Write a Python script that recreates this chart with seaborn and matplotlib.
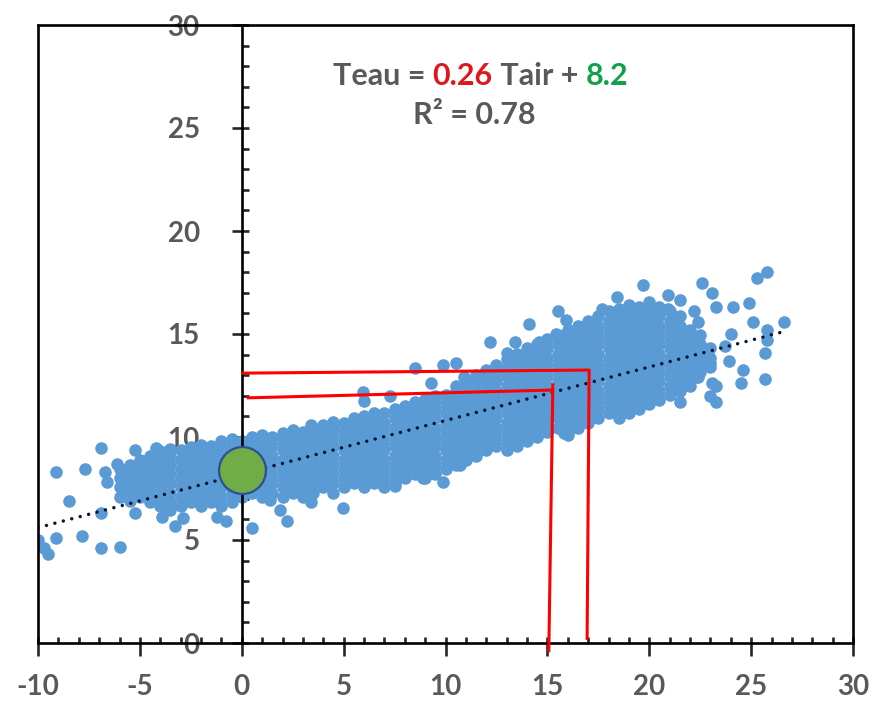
import numpy as np
import pandas as pd
import matplotlib.pyplot as plt
import seaborn as sns
from matplotlib.ticker import MultipleLocator

# dense part of the cloud, one column per Tair value -> Teau values
cloud_cold = [
    (-6.0, [7.1, 7.55, 8.0, 8.45]),
    (-5.5, [6.9, 7.3, 7.75, 8.2, 8.65]),
    (-5.0, [7.1, 7.55, 8.0, 8.45, 8.9]),
    (-4.5, [6.85, 7.3, 7.75, 8.2, 8.65, 9.1]),
    (-4.0, [6.65, 7.1, 7.55, 8.0, 8.45, 8.9, 9.3]),
    (-3.5, [6.45, 6.85, 7.3, 7.75, 8.2, 8.65, 9.1, 9.4]),
    (-3.0, [6.65, 7.1, 7.55, 8.0, 8.45, 8.9, 9.35]),
    (-2.5, [6.85, 7.3, 7.75, 8.2, 8.65, 9.1, 9.5]),
    (-2.0, [6.65, 7.1, 7.55, 8.0, 8.45, 8.9, 9.35, 9.6]),
    (-1.5, [6.85, 7.3, 7.75, 8.2, 8.65, 9.1, 9.55]),
    (-1.0, [6.65, 7.1, 7.55, 8.0, 8.45, 8.9, 9.35, 9.8]),
    (-0.5, [6.85, 7.3, 7.75, 8.2, 8.65, 9.1, 9.55, 9.9]),
]
cloud_mild = [
    (0.0, [7.1, 7.55, 8.0, 8.45, 8.9, 9.35, 9.8]),
    (0.5, [7.3, 7.75, 8.2, 8.65, 9.1, 9.55, 10.0]),
    (1.0, [7.1, 7.55, 8.0, 8.45, 8.9, 9.35, 9.8, 10.1]),
    (1.5, [7.3, 7.75, 8.2, 8.65, 9.1, 9.55, 10.0]),
    (2.0, [7.1, 7.55, 8.0, 8.45, 8.9, 9.35, 9.8, 10.2]),
    (2.5, [7.3, 7.75, 8.2, 8.65, 9.1, 9.55, 10.0, 10.35]),
    (3.0, [7.1, 7.55, 8.0, 8.45, 8.9, 9.35, 9.8, 10.25]),
    (3.5, [7.3, 7.75, 8.2, 8.65, 9.1, 9.55, 10.0, 10.45]),
    (4.0, [7.55, 8.0, 8.45, 8.9, 9.35, 9.8, 10.25, 10.6]),
    (4.5, [7.3, 7.75, 8.2, 8.65, 9.1, 9.55, 10.0, 10.45, 10.75]),
    (5.0, [7.55, 8.0, 8.45, 8.9, 9.35, 9.8, 10.25, 10.7]),
    (5.5, [7.75, 8.2, 8.65, 9.1, 9.55, 10.0, 10.45, 10.9]),
    (6.0, [7.55, 8.0, 8.45, 8.9, 9.35, 9.8, 10.25, 10.7, 11.0]),
    (6.5, [7.75, 8.2, 8.65, 9.1, 9.55, 10.0, 10.45, 10.9, 11.15]),
    (7.0, [7.55, 8.0, 8.45, 8.9, 9.35, 9.8, 10.25, 10.7, 11.15]),
    (7.5, [7.75, 8.2, 8.65, 9.1, 9.55, 10.0, 10.45, 10.9, 11.35]),
    (8.0, [8.0, 8.45, 8.9, 9.35, 9.8, 10.25, 10.7, 11.15, 11.5]),
    (8.5, [8.2, 8.65, 9.1, 9.55, 10.0, 10.45, 10.9, 11.35, 11.7]),
    (9.0, [8.0, 8.45, 8.9, 9.35, 9.8, 10.25, 10.7, 11.15, 11.6, 11.85]),
    (9.5, [8.2, 8.65, 9.1, 9.55, 10.0, 10.45, 10.9, 11.35, 11.8, 12.0]),
]
cloud_warm = [
    (10.0, [8.45, 8.9, 9.35, 9.8, 10.25, 10.7, 11.15, 11.6, 12.05]),
    (10.5, [8.65, 9.1, 9.55, 10.0, 10.45, 10.9, 11.35, 11.8, 12.25, 12.5]),
    (11.0, [8.9, 9.35, 9.8, 10.25, 10.7, 11.15, 11.6, 12.05, 12.5, 12.75]),
    (11.5, [9.1, 9.55, 10.0, 10.45, 10.9, 11.35, 11.8, 12.25, 12.7, 13.0]),
    (12.0, [9.35, 9.8, 10.25, 10.7, 11.15, 11.6, 12.05, 12.5, 12.95, 13.25]),
    (12.5, [9.55, 10.0, 10.45, 10.9, 11.35, 11.8, 12.25, 12.7, 13.15, 13.5]),
    (13.0, [9.35, 9.8, 10.25, 10.7, 11.15, 11.6, 12.05, 12.5, 12.95, 13.4, 13.8]),
    (13.5, [9.55, 10.0, 10.45, 10.9, 11.35, 11.8, 12.25, 12.7, 13.15, 13.6, 14.05]),
    (14.0, [9.8, 10.25, 10.7, 11.15, 11.6, 12.05, 12.5, 12.95, 13.4, 13.85, 14.3]),
    (14.5, [10.0, 10.45, 10.9, 11.35, 11.8, 12.25, 12.7, 13.15, 13.6, 14.05, 14.5]),
    (15.0, [10.25, 10.7, 11.15, 11.6, 12.05, 12.5, 12.95, 13.4, 13.85, 14.3, 14.75]),
    (15.5, [10.45, 10.9, 11.35, 11.8, 12.25, 12.7, 13.15, 13.6, 14.05, 14.5, 14.95]),
    (16.0, [10.25, 10.7, 11.15, 11.6, 12.05, 12.5, 12.95, 13.4, 13.85, 14.3, 14.75, 15.2]),
]
cloud_hot = [
    (16.5, [10.45, 10.9, 11.35, 11.8, 12.25, 12.7, 13.15, 13.6, 14.05, 14.5, 14.95, 15.4]),
    (17.0, [10.7, 11.15, 11.6, 12.05, 12.5, 12.95, 13.4, 13.85, 14.3, 14.75, 15.2, 15.65]),
    (17.5, [10.9, 11.35, 11.8, 12.25, 12.7, 13.15, 13.6, 14.05, 14.5, 14.95, 15.4, 15.85]),
    (18.0, [11.15, 11.6, 12.05, 12.5, 12.95, 13.4, 13.85, 14.3, 14.75, 15.2, 15.65, 16.1]),
    (18.5, [10.9, 11.35, 11.8, 12.25, 12.7, 13.15, 13.6, 14.05, 14.5, 14.95, 15.4, 15.85, 16.2]),
    (19.0, [11.15, 11.6, 12.05, 12.5, 12.95, 13.4, 13.85, 14.3, 14.75, 15.2, 15.65, 16.1, 16.4]),
    (19.5, [11.35, 11.8, 12.25, 12.7, 13.15, 13.6, 14.05, 14.5, 14.95, 15.4, 15.85, 16.3]),
    (20.0, [11.6, 12.05, 12.5, 12.95, 13.4, 13.85, 14.3, 14.75, 15.2, 15.65, 16.1, 16.55]),
    (20.5, [11.8, 12.25, 12.7, 13.15, 13.6, 14.05, 14.5, 14.95, 15.4, 15.85, 16.3]),
    (21.0, [12.05, 12.5, 12.95, 13.4, 13.85, 14.3, 14.75, 15.2, 15.65, 16.1]),
    (21.5, [12.25, 12.7, 13.15, 13.6, 14.05, 14.5, 14.95, 15.4, 15.85]),
    (22.0, [12.5, 12.95, 13.4, 13.85, 14.3, 14.75, 15.2]),
    (22.5, [13.15, 13.6, 14.05, 14.5, 14.95]),
    (23.0, [13.4, 13.85, 14.3]),
]

# scattered points around the cloud
outlier_tair = [-10.0, -9.7, -9.5, -9.1, -9.1, -8.5, -7.85, -7.7, -6.9, -6.9, -6.7, -6.6,
                -6.9, -6.1, -6.0, -5.25, -5.25, -4.2, -3.9, -3.3, -2.9, -1.2, -0.75,
                0.5, 1.4, 1.9, 2.2, 3.4, 4.95, 7.5, 8.9, 9.9, 10.7, 14.6, 15.8, 16.0,
                3.4, 5.95, 6.0, 7.3, 8.5, 9.3, 9.9, 10.5, 10.9, 11.6, 12.2, 13.0, 13.4,
                14.1, 14.6, 15.4, 15.5, 15.9, 17.7, 18.4, 19.7, 20.9, 20.9, 21.5, 22.2,
                22.4, 22.1, 22.6, 23.1, 23.3, 24.1, 24.9, 25.3, 25.8, 26.6, 25.1, 25.8,
                25.8, 25.7, 24.6, 24.5, 25.7, 23.1, 23.3, 22.3, 22.1, 21.5, 23.3, 23.9,
                23.7, 24.0, 23.0, 22.4, 23.0]
outlier_teau = [5.0, 4.6, 4.3, 8.3, 5.1, 6.9, 5.2, 8.45, 9.45, 4.6, 8.3, 7.8,
                6.3, 8.7, 4.65, 9.35, 6.3, 9.45, 6.1, 5.7, 6.05, 6.1, 5.9,
                5.6, 6.95, 6.45, 5.9, 6.85, 6.55, 7.6, 8.0, 7.8, 8.65, 10.2, 10.2, 10.1,
                10.6, 12.2, 11.75, 12.0, 13.35, 12.6, 13.5, 13.6, 12.9, 12.9, 14.6, 14.1, 14.6,
                15.5, 14.6, 15.0, 16.1, 15.7, 16.2, 16.8, 17.4, 16.9, 16.2, 16.65, 16.1,
                15.6, 14.9, 17.5, 17.0, 16.3, 16.3, 16.5, 17.7, 18.0, 15.6, 15.6, 15.2,
                14.7, 14.1, 13.25, 12.6, 12.8, 12.6, 12.5, 12.9, 13.4, 11.7, 11.7, 13.7,
                14.4, 15.0, 13.6, 12.9, 12.0]

# trend line and the marked point
slope = 0.26
intercept = 8.2
r2 = 0.78
trend_tair = [-10.0, 26.5]
mark_tair = [0.0]
mark_teau = [8.4]

# red guide lines (Tair, Teau)
guide_low_h = ([0.25, 15.3], [11.9, 12.28])
guide_low_v = ([15.27, 15.07], [12.6, -0.45])
guide_high_h = ([0.0, 17.05], [13.1, 13.25])
guide_high_v = ([17.05, 16.95], [13.3, 0.15])

rows = [(x, y) for x, ys in cloud_cold + cloud_mild + cloud_warm + cloud_hot for y in ys]
df = pd.DataFrame(rows, columns=['Tair', 'Teau'])
df = pd.concat([df, pd.DataFrame({'Tair': outlier_tair, 'Teau': outlier_teau})], ignore_index=True)

sns.set_style('white')
plt.rcParams['font.family'] = ['Lato', 'DejaVu Sans']
plt.rcParams['axes.unicode_minus'] = False
gray = '#595959'

fig = plt.figure(figsize=(8.72, 7.01), dpi=100)
ax = fig.add_axes([38 / 872, 58 / 701, 815 / 872, 618 / 701])

sns.scatterplot(data=df, x='Tair', y='Teau', color='#5B9BD5', s=82, linewidth=0, ax=ax, zorder=2)

tx = np.array(trend_tair)
ax.plot(tx, slope * tx + intercept, color='#0B1530', lw=2.5, linestyle=(0, (0.01, 2.5)),
        dash_capstyle='round', zorder=3)

for xs, ys in [guide_low_h, guide_low_v, guide_high_h, guide_high_v]:
    ax.plot(xs, ys, color='#FF0000', lw=2.2, zorder=4, clip_on=False, solid_capstyle='butt')

sns.scatterplot(x=mark_tair, y=mark_teau, s=1140, color='#70AD47', edgecolor='#2F4F8F',
                linewidth=1.6, ax=ax, zorder=5)

ax.set_xlim(-10, 30)
ax.set_ylim(0, 30)
ax.set_xlabel('')
ax.set_ylabel('')

ax.spines['left'].set_position(('data', 0))
for sp in ax.spines.values():
    sp.set_color('black')
    sp.set_linewidth(1.9)
ax.axvline(-10, color='black', lw=1.9, clip_on=False, zorder=6)

ax.xaxis.set_major_locator(MultipleLocator(5))
ax.xaxis.set_minor_locator(MultipleLocator(1))
ax.yaxis.set_major_locator(MultipleLocator(5))
ax.yaxis.set_minor_locator(MultipleLocator(1))
ax.xaxis.remove_overlapping_locs = False
ax.yaxis.remove_overlapping_locs = False

ax.tick_params(axis='x', which='major', direction='out', length=9.4, width=1.9,
               pad=13, labelsize=20, labelcolor=gray, bottom=True)
ax.tick_params(axis='x', which='minor', direction='in', length=4.1, width=1.9, bottom=True)
ax.tick_params(axis='y', which='major', direction='out', length=7.2, width=1.9,
               pad=23, labelsize=20, labelcolor=gray, left=True)
ax.tick_params(axis='y', which='minor', direction='in', length=5.0, width=1.9, left=True)
for lab in ax.get_xticklabels() + ax.get_yticklabels():
    lab.set_fontweight('bold')

# equation with coloured coefficients
eq = dict(fontsize=22, fontweight='bold')
t1 = ax.text(4.47, 27.1, 'Teau = ', color=gray, va='baseline', **eq)
t2 = ax.annotate(f'{slope:.2f}', xy=(1, 0), xycoords=t1, va='bottom', color='#E0161E', **eq)
t3 = ax.annotate(' Tair + ', xy=(1, 0), xycoords=t2, va='bottom', color=gray, **eq)
ax.annotate(f'{intercept:.1f}', xy=(1, 0), xycoords=t3, va='bottom', color='#11A14A', **eq)
ax.text(8.4, 25.2, f'R² = {r2:.2f}', color=gray, va='baseline', **eq)

plt.savefig('out.png', dpi=100)
